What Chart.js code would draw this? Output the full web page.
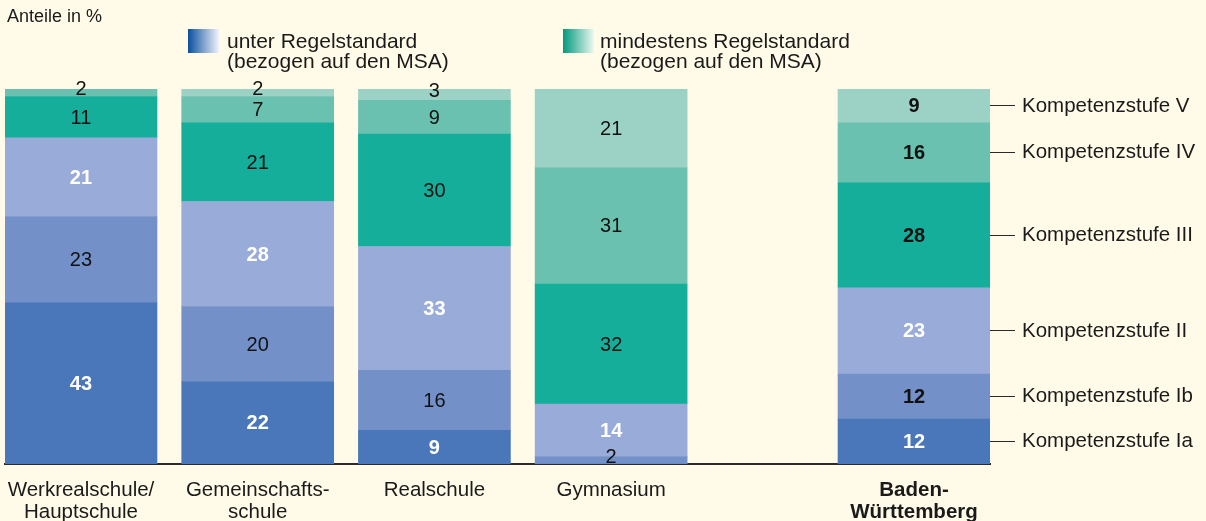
<!DOCTYPE html>
<html>
<head>
<meta charset="utf-8">
<script src="https://cdn.jsdelivr.net/npm/chart.js@4"></script>
<style>
  html, body { margin: 0; padding: 0; background: #fffbe8; }
  #wrap { position: relative; width: 1206px; height: 521px; background: #fffbe8; font-family: "Liberation Sans", Arial, sans-serif; color: #1a1a1a; }
  #c { position: absolute; left: 0; top: 0; }
  .txt { position: absolute; white-space: nowrap; }
  .sw { position: absolute; width: 31px; height: 24px; }
</style>
</head>
<body>
<div id="wrap">
  <canvas id="c" width="1206" height="521"></canvas>
  <div class="txt" style="left:7px; top:6px; font-size:18px;">Anteile in %</div>
  <div class="sw" style="left:188px; top:29px; background:linear-gradient(to right,#0a4f9f,#f2f3fb);"></div>
  <div class="txt" style="left:227px; top:31px; font-size:21px; line-height:20px;">unter Regelstandard<br>(bezogen auf den MSA)</div>
  <div class="sw" style="left:563px; top:29px; background:linear-gradient(to right,#009a7c,#eef8f1);"></div>
  <div class="txt" style="left:600px; top:31px; font-size:21px; line-height:20px;">mindestens Regelstandard<br>(bezogen auf den MSA)</div>
</div>
<script>
// ---- data ----
const categories = [["Werkrealschule/", "Hauptschule"], ["Gemeinschafts-", "schule"], ["Realschule"], ["Gymnasium"], ["Baden-", "Württemberg"]];
const slots = [0, 1, 2, 3, 4.714]; // category slot positions (BW set apart)
const levelNames = ["Kompetenzstufe Ia", "Kompetenzstufe Ib", "Kompetenzstufe II", "Kompetenzstufe III", "Kompetenzstufe IV", "Kompetenzstufe V"];
const stufeIa  = [43, 22, 9, 0, 12];
const stufeIb  = [23, 20, 16, 2, 12];
const stufeII  = [21, 28, 33, 14, 23];
const stufeIII = [11, 21, 30, 32, 28];
const stufeIV  = [2, 7, 9, 31, 16];
const stufeV   = [0, 2, 3, 21, 9];
const series = [stufeIa, stufeIb, stufeII, stufeIII, stufeIV, stufeV];
const colors = ["#4a77b9", "#7390c8", "#99abd8", "#14ae9a", "#6bc1b0", "#9cd2c5"];
const whiteLabel = [true, false, true, false, false, false];

const FONT = '"Liberation Sans", Arial, sans-serif';
const bwIndex = categories.length - 1;

// midpoints of the BW segments for the right-hand level labels
const bwMids = [];
(function(){ let acc = 0; series.forEach(s => { bwMids.push(acc + s[bwIndex] / 2); acc += s[bwIndex]; }); })();

const datasets = series.map((vals, k) => ({
  label: levelNames[k],
  data: vals.map((v, i) => ({ x: slots[i], y: v })),
  backgroundColor: colors[k],
  borderWidth: 0,
  barThickness: 152,
  xAxisID: 'x',
  yAxisID: 'y'
}));

const valueLabels = {
  id: 'valueLabels',
  afterDatasetsDraw(chart) {
    const ctx = chart.ctx;
    ctx.save();
    ctx.textAlign = 'center';
    ctx.textBaseline = 'middle';
    chart.data.datasets.forEach((ds, k) => {
      const meta = chart.getDatasetMeta(k);
      meta.data.forEach((bar, i) => {
        const v = series[k][i];
        if (!v) return;
        const isBW = i === bwIndex;
        const bold = whiteLabel[k] || isBW;
        ctx.font = (bold ? 'bold ' : '') + '20px ' + FONT;
        ctx.fillStyle = whiteLabel[k] ? '#ffffff' : '#111111';
        let y = (bar.y + bar.base) / 2;
        if (v <= 3) y -= 4;
        ctx.fillText(String(v), bar.x, y + 1);
      });
    });
    ctx.restore();
  }
};

new Chart(document.getElementById('c'), {
  type: 'bar',
  data: { datasets },
  plugins: [valueLabels],
  options: {
    responsive: false,
    animation: false,
    events: [],
    layout: { padding: { left: 5, top: 89, right: 0, bottom: 0 } },
    plugins: { legend: { display: false }, tooltip: { enabled: false } },
    scales: {
      x: {
        type: 'linear',
        stacked: true,
        offset: false,
        min: -0.430,
        max: 5.144,
        z: 1,
        grid: { display: false, drawTicks: false, offset: false },
        border: { display: true, color: '#2a2a2a', width: 2 },
        afterBuildTicks: axis => { axis.ticks = slots.map(v => ({ value: v })); },
        afterFit: axis => { axis.height = 57; axis.paddingLeft = 0; axis.paddingRight = 0; },
        ticks: {
          autoSkip: false,
          maxRotation: 0,
          minRotation: 0,
          padding: 16,
          color: '#1a1a1a',
          font: ctx => ({ family: FONT, size: 20.5, weight: ctx.index === bwIndex ? 'bold' : 'normal', lineHeight: 1.05 }),
          callback: (value, index) => categories[index]
        }
      },
      y: {
        stacked: true,
        min: 0,
        max: 100,
        display: false
      },
      yR: {
        position: 'right',
        min: 0,
        max: 100,
        grid: { display: true, drawOnChartArea: false, drawTicks: true, tickLength: 25, color: '#2a2a2a', lineWidth: 1 },
        border: { display: false },
        afterBuildTicks: axis => { axis.ticks = bwMids.map(v => ({ value: v })); },
        afterFit: axis => { axis.width = 216; axis.paddingTop = 0; axis.paddingBottom = 0; },
        ticks: {
          autoSkip: false,
          padding: 7,
          color: '#1a1a1a',
          font: { family: FONT, size: 20.5 },
          callback: (value, index) => levelNames[index]
        }
      }
    }
  }
});
</script>
</body>
</html>
